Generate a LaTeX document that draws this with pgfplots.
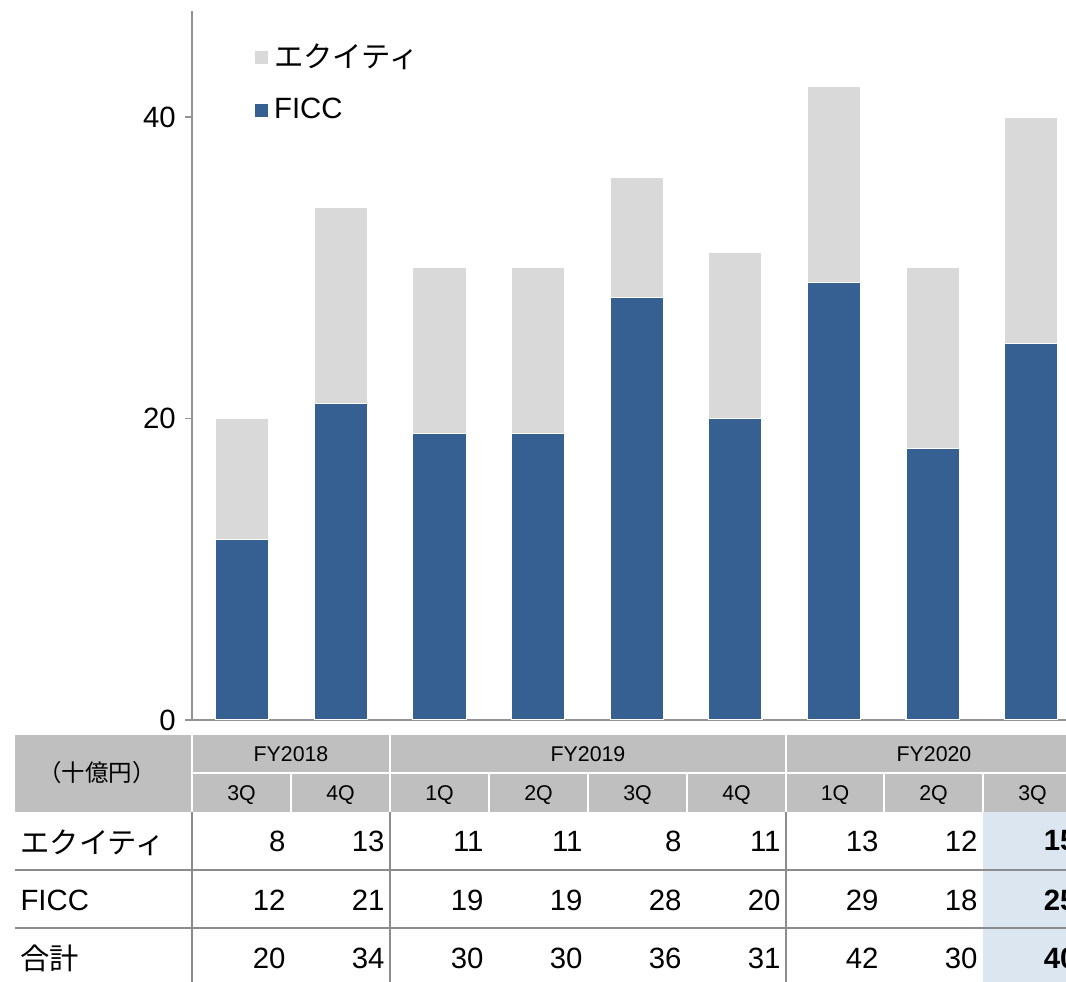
\documentclass[border=0pt]{standalone}
\usepackage{fontspec}
\setmainfont{Liberation Sans}
\newfontfamily\jp{Noto Sans CJK JP}
\usepackage{pgfplots}
\pgfplotsset{compat=1.18}
\definecolor{ficc}{HTML}{366092}
\definecolor{equity}{HTML}{D9D9D9}
\definecolor{hdr}{HTML}{BFBFBF}
\definecolor{hilite}{HTML}{DCE6F1}
\definecolor{rule}{HTML}{8C8C8C}
\newcommand{\bigf}{\fontsize{11}{13}\selectfont}
\newcommand{\smallf}{\fontsize{8}{10}\selectfont}
\begin{document}
\begin{tikzpicture}
\useasboundingbox (0pt,0pt) rectangle (399.75pt,-368.25pt);
\clip (0pt,0pt) rectangle (399.75pt,-368.25pt);
\begin{axis}[
  at={(72pt,-270pt)}, anchor=south west,
  scale only axis, width=333.2pt, height=265.7pt,
  ybar stacked, bar width=0.54,
  xmin=-0.51, xmax=8.5, ymin=0, ymax=47,
  axis lines*=left,
  axis line style={draw=gray!85, line width=0.7pt},
  xtick=\empty, ytick={0,20,40},
  tick align=outside, major tick length=2.6pt,
  tick style={draw=gray!85, line width=0.7pt},
  yticklabel style={font=\bigf},
  /pgf/number format/assume math mode=true,
  reverse legend,
  legend cell align=left,
  legend style={at={(0.06,0.97)}, anchor=north west, draw=none, fill=none,
    font=\bigf, row sep=6pt},
  legend image code/.code={\fill[#1] (0pt,-2.6pt) rectangle (5.2pt,2.6pt);},
]
\addplot[fill=ficc, draw=white, line width=0.4pt] coordinates {
(0,12) (1,21) (2,19) (3,19) (4,28) (5,20) (6,29) (7,18) (8,25)};
\addlegendentry{FICC}
\addplot[fill=equity, draw=white, line width=0.4pt] coordinates {
(0,8) (1,13) (2,11) (3,11) (4,8) (5,11) (6,13) (7,12) (8,15)};
\addlegendentry{\jp エクイティ}
\end{axis}
\begin{scope}[x=0.375pt, y=-0.375pt]
  % header
  \fill[hdr] (15,735) rectangle (1082,812);
  \fill[hilite] (983,812) rectangle (1082,982);
  \draw[white, line width=1.1pt] (192,735) -- (192,812) (390,735) -- (390,812)
    (786,735) -- (786,812) (192,773) -- (1082,773);
  \foreach \xx in {291,489,588,687,884,983}
    \draw[white, line width=1.1pt] (\xx,773) -- (\xx,812);
  % rules
  \draw[rule, line width=1.1pt] (15,870) -- (1082,870) (15,928) -- (1082,928);
  \draw[rule, line width=0.75pt] (192,812) -- (192,982) (390,812) -- (390,982)
    (786,812) -- (786,982);
  % header text
  \node[font=\fontsize{8.8}{10}\selectfont\jp] at (97,773) {（十億円）};
  \node[font=\smallf] at (291,754) {FY2018};
  \node[font=\smallf] at (588,754) {FY2019};
  \node[font=\smallf] at (934,754) {FY2020};
  \foreach \xx/\q in {241.5/3Q,340.5/4Q,439.5/1Q,538.5/2Q,637.5/3Q,736.5/4Q,835/1Q,933.5/2Q,1032.5/3Q}
    \node[font=\smallf] at (\xx,795) {\q};
  % row labels
  \node[font=\bigf\jp, anchor=west, inner sep=0pt] at (20,843) {エクイティ};
  \node[font=\bigf, anchor=west, inner sep=0pt] at (20,900) {FICC};
  \node[font=\bigf\jp, anchor=west, inner sep=0pt] at (20,958) {合計};
  % values
  \foreach \xx/\a/\b/\c in {291/8/12/20,390/13/21/34,489/11/19/30,588/11/19/30,
      687/8/28/36,786/11/20/31,884/13/29/42,983/12/18/30}{
    \node[font=\bigf, anchor=east, inner sep=0pt] at (\xx-5,841) {\a};
    \node[font=\bigf, anchor=east, inner sep=0pt] at (\xx-5,900) {\b};
    \node[font=\bigf, anchor=east, inner sep=0pt] at (\xx-5,958) {\c};
  }
  \node[font=\bigf\bfseries, anchor=east, inner sep=0pt] at (1077,841) {15};
  \node[font=\bigf\bfseries, anchor=east, inner sep=0pt] at (1077,900) {25};
  \node[font=\bigf\bfseries, anchor=east, inner sep=0pt] at (1077,958) {40};
\end{scope}
\end{tikzpicture}
\end{document}
